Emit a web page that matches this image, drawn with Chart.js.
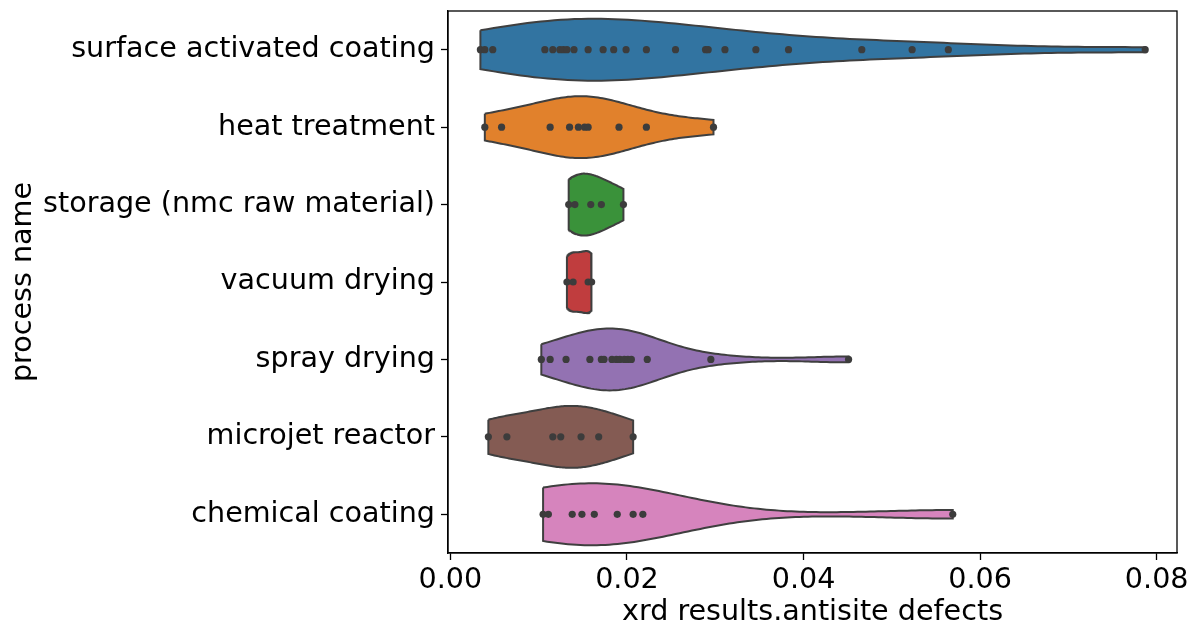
<!DOCTYPE html>
<html>
<head>
<meta charset="utf-8">
<script src="https://cdn.jsdelivr.net/npm/chart.js@4.4.0/dist/chart.umd.min.js"></script>
<style>
  html, body { margin: 0; padding: 0; background: #fff; }
</style>
</head>
<body>
<canvas id="violinChart" width="1199" height="630"></canvas>
<script>
const processNames = [
    'surface activated coating',
    'heat treatment',
    'storage (nmc raw material)',
    'vacuum drying',
    'spray drying',
    'microjet reactor',
    'chemical coating'
];

// antisite defect fraction per sample, one list per process
const surfaceActivatedCoating = [0.0034, 0.0039, 0.0048, 0.0107, 0.0116, 0.0124, 0.0128, 0.0132, 0.0140, 0.0156,
    0.0173, 0.0185, 0.0199, 0.0222, 0.0255, 0.0289, 0.0292, 0.0311, 0.0346, 0.0383, 0.0466, 0.0523, 0.0564, 0.0787];
const heatTreatment = [0.0039, 0.0058, 0.0113, 0.0135, 0.0145, 0.0152, 0.0156, 0.0191, 0.0222, 0.0298];
const storageRawMaterial = [0.0134, 0.0141, 0.0159, 0.0171, 0.0196];
const vacuumDrying = [0.0132, 0.0139, 0.0156, 0.0160];
const sprayDrying = [0.0103, 0.0113, 0.0131, 0.0158, 0.0171, 0.0174, 0.0183, 0.0188, 0.0192, 0.0197,
    0.0201, 0.0205, 0.0223, 0.0295, 0.0451];
const microjetReactor = [0.0043, 0.0064, 0.0116, 0.0125, 0.0148, 0.0168, 0.0207];
const chemicalCoating = [0.0105, 0.0111, 0.0138, 0.0149, 0.0163, 0.0189, 0.0207, 0.0218, 0.0569];

const xTickValues = [0, 0.02, 0.04, 0.06, 0.08];

const groups = [surfaceActivatedCoating, heatTreatment, storageRawMaterial, vacuumDrying,
    sprayDrying, microjetReactor, chemicalCoating];
const fillColors = ['#3274a1', '#e1812c', '#3a923a', '#c03d3e', '#9372b2', '#845b53', '#d684bd'];
const edgeColor = '#3f3f3f';

/* gaussian kde (scott bandwidth), cut at data range, scaled to equal width */
function violinOutline(values, row) {
    const n = values.length;
    const mean = values.reduce((a, b) => a + b, 0) / n;
    const sd = Math.sqrt(values.reduce((a, b) => a + (b - mean) ** 2, 0) / (n - 1));
    const bw = sd * Math.pow(n, -0.2);
    const lo = Math.min(...values);
    const hi = Math.max(...values);
    const grid = [];
    const dens = [];
    for (let i = 0; i < 100; i++) {
        const x = lo + (hi - lo) * i / 99;
        let s = 0;
        for (const v of values) {
            const z = (x - v) / bw;
            s += Math.exp(-0.5 * z * z);
        }
        grid.push(x);
        dens.push(s);
    }
    const peak = Math.max(...dens);
    const upper = grid.map((x, i) => ({ x: x, y: row - 0.4 * dens[i] / peak }));
    const lower = grid.map((x, i) => ({ x: x, y: row + 0.4 * dens[i] / peak })).reverse();
    return upper.concat(lower, [upper[0]]);
}

const datasets = [];
groups.forEach((vals, i) => {
    datasets.push({
        label: processNames[i],
        data: violinOutline(vals, i),
        showLine: true,
        fill: 'shape',
        backgroundColor: fillColors[i],
        borderColor: edgeColor,
        borderWidth: 2,
        pointRadius: 0,
        tension: 0,
        order: 2
    });
});
groups.forEach((vals, i) => {
    datasets.push({
        label: processNames[i] + ' points',
        data: vals.map(v => ({ x: v, y: i })),
        showLine: false,
        pointRadius: 3.6,
        pointBackgroundColor: '#3c3c3c',
        pointBorderWidth: 0,
        order: 1
    });
});

// matplotlib-style box around the axes
const frame = {
    id: 'frame',
    afterDraw(chart) {
        const a = chart.chartArea;
        const ctx = chart.ctx;
        ctx.save();
        ctx.strokeStyle = '#000';
        ctx.lineWidth = 1.3;
        ctx.strokeRect(a.left, a.top, a.right - a.left, a.bottom - a.top);
        ctx.restore();
    }
};

const font = { family: 'DejaVu Sans', size: 28.6 };

new Chart(document.getElementById('violinChart'), {
    type: 'scatter',
    data: { datasets: datasets },
    options: {
        responsive: false,
        animation: false,
        layout: { padding: { top: 11, right: 22, left: 0, bottom: 0 } },
        plugins: {
            legend: { display: false },
            tooltip: { enabled: false }
        },
        scales: {
            x: {
                type: 'linear',
                min: -0.00027,
                max: 0.0823,
                afterBuildTicks: s => { s.ticks = xTickValues.map(v => ({ value: v })); },
                afterFit: s => { s.height = 77; s.paddingLeft = 0; s.paddingRight = 0; },
                ticks: {
                    color: '#000',
                    font: font,
                    padding: 3,
                    maxRotation: 0,
                    callback: v => v.toFixed(2)
                },
                grid: { drawOnChartArea: false, drawTicks: true, tickLength: 7, tickColor: '#000', tickWidth: 1.3 },
                border: { display: true, color: '#000', width: 1.3 },
                title: { display: true, text: 'xrd results.antisite defects', color: '#000', font: font, padding: { top: 0, bottom: 0 } }
            },
            y: {
                type: 'linear',
                reverse: true,
                min: -0.5,
                max: 6.5,
                afterBuildTicks: s => { s.ticks = processNames.map((_, i) => ({ value: i })); },
                afterFit: s => { s.width = 448; s.paddingTop = 0; s.paddingBottom = 0; },
                ticks: {
                    color: '#000',
                    font: font,
                    padding: 6,
                    callback: v => processNames[v]
                },
                grid: { drawOnChartArea: false, drawTicks: true, tickLength: 7, tickColor: '#000', tickWidth: 1.3 },
                border: { display: true, color: '#000', width: 1.3 },
                title: { display: true, text: 'process name', color: '#000', font: font, padding: { top: 6, bottom: 0 } }
            }
        }
    },
    plugins: [frame]
});
</script>
</body>
</html>
